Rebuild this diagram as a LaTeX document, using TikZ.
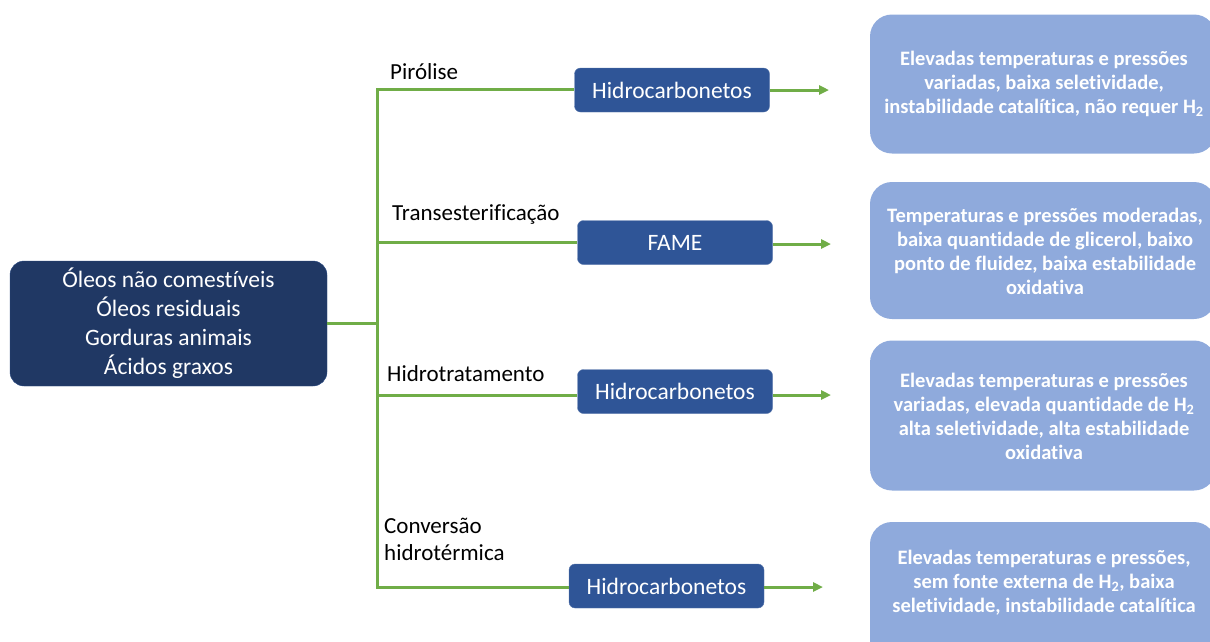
\documentclass[tikz,border=0pt]{standalone}
\usepackage{fontspec}
\setmainfont{Carlito}[Ligatures={NoCommon,NoContextual}]
\usetikzlibrary{arrows.meta}
\definecolor{navy}{HTML}{203864}
\definecolor{midblue}{HTML}{2F5597}
\definecolor{lightblue}{HTML}{8FAADC}
\definecolor{lgreen}{HTML}{70AD47}
\begin{document}
\begin{tikzpicture}[x=1pt,y=-1pt,
  src/.style={draw=midblue!60!navy,fill=navy,rounded corners=14pt,text=white,align=center,font=\fontsize{23.5}{29}\selectfont,minimum width=317pt,minimum height=125pt,inner sep=0pt},
  prod/.style={fill=midblue,draw=midblue!80!white,rounded corners=6pt,text=white,align=center,font=\fontsize{23.5}{26}\selectfont,minimum width=195pt,minimum height=44pt,inner sep=0pt},
  desc/.style={fill=lightblue,rounded corners=22pt,text=white,align=center,font=\bfseries\fontsize{20.5}{24}\selectfont,inner sep=0pt},
  lbl/.style={anchor=base west,font=\fontsize{23}{27}\selectfont,align=left,inner sep=0pt},
  conn/.style={draw=lgreen,line width=3pt},
  arr/.style={draw=lgreen,line width=3pt,-{Triangle[length=10pt,width=9pt]}}
]
\useasboundingbox (0,0) rectangle (1210,641);
% source
\node[src] (src) at (168.5,323.5) {Óleos não comestíveis\\Óleos residuais\\Gorduras animais\\Ácidos graxos};
% trunk
\coordinate (top) at (377,89);
\coordinate (t2) at (377,242);
\coordinate (t3) at (377,395);
\coordinate (bot) at (377,587);
\coordinate (mid) at (377,323.5);
% product boxes
\node[prod] (p1) at (672,90) {Hidrocarbonetos};
\node[prod] (p2) at (675,242.5) {FAME};
\node[prod] (p3) at (675,391.5) {Hidrocarbonetos};
\node[prod] (p4) at (666.5,586) {Hidrocarbonetos};
% arrow ends
\coordinate (e1) at (829,90);
\coordinate (e2) at (831,244);
\coordinate (e3) at (831,395);
\coordinate (e4) at (823,587);
% description boxes
\node[desc,minimum width=346pt,minimum height=139pt] (d1) at (1043,84) {};
\node[desc,minimum width=346pt,minimum height=137pt] (d2) at (1043,250.5) {};
\node[desc,minimum width=346pt,minimum height=150pt] (d3) at (1043,415.5) {};
\node[desc,minimum width=346pt,minimum height=150pt] (d4) at (1043,597) {};
\node[desc,fill=none] (t1) at (1044,84) {Elevadas temperaturas e pressões\\variadas, baixa seletividade,\\instabilidade catalítica, não requer H\textsubscript{2}};
\node[desc,fill=none] (tt2) at (1045,251) {Temperaturas e pressões moderadas,\\baixa quantidade de glicerol, baixo\\ponto de fluidez, baixa estabilidade\\oxidativa};
\node[desc,fill=none] (tt3) at (1044,416) {Elevadas temperaturas e pressões\\variadas, elevada quantidade de H\textsubscript{2}\\alta seletividade, alta estabilidade\\oxidativa};
\node[desc,fill=none] (tt4) at (1044,583) {Elevadas temperaturas e pressões,\\sem fonte externa de H\textsubscript{2}, baixa\\seletividade, instabilidade catalítica};
% labels
\node[lbl] (l1) at (390,79) {Pirólise};
\node[lbl] (l2) at (392,220) {Transesterificação};
\node[lbl] (l3) at (387,381) {Hidrotratamento};
\node[lbl] (l4) at (384,560) {Conversão\\hidrotérmica};
% connectors
\draw[conn] (src.east |- mid) -- (mid);
\draw[conn,line cap=rect] (top) -- (bot);
\draw[conn] (top) -- (p1.west |- top);
\draw[conn] (t2) -- (p2.west |- t2);
\draw[conn] (t3) -- (p3.west |- t3);
\draw[conn] (bot) -- (p4.west |- bot);
\draw[arr] (p1.east) -- (e1);
\draw[arr] (p2.east |- e2) -- (e2);
\draw[arr] (p3.east |- e3) -- (e3);
\draw[arr] (p4.east |- e4) -- (e4);
\end{tikzpicture}
\end{document}
